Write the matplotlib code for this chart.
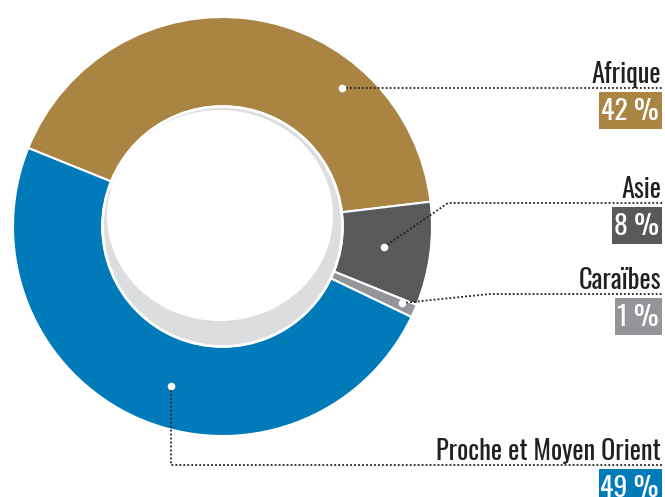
import matplotlib.pyplot as plt
from matplotlib.patches import Circle, Ellipse, Rectangle

# data
regions = ['Afrique', 'Asie', 'Caraïbes', 'Proche et Moyen Orient']
shares = [42, 8, 1, 49]
share_labels = ['42 %', '8 %', '1 %', '49 %']
colors = ['#aa8443', '#58595b', '#939598', '#007ab8']

# layout in pixels (y from top of image)
W, H = 665, 497
cx, cy, R, r_hole = 222.5, 226.5, 209.5, 120
dots = [(342, 88), (384, 247), (402, 303), (171, 386)]
bends = [None, (448, 203), (490, 294), (171, 465)]
line_y = [88, 203, 294, 465]
x_right = 662

FONT = ['Oswald', 'DejaVu Sans']

fig = plt.figure(figsize=(W / 100, H / 100), dpi=100)
ax = fig.add_axes([0, 0, 1, 1])


def fy(y):
    return H - y


ax.pie(shares, colors=colors, startangle=158, counterclock=False,
       radius=R, center=(cx, fy(cy)),
       wedgeprops=dict(width=R - r_hole, edgecolor='white', linewidth=1.5))

ax.add_patch(Circle((cx, fy(cy)), r_hole, facecolor='#dcddde',
                    edgecolor='white', linewidth=2, zorder=3))
ax.add_patch(Ellipse((220, fy(215.5)), 226, 211, facecolor='white',
                     edgecolor='none', zorder=4))

ax.set_xlim(0, W)
ax.set_ylim(0, H)
ax.set_aspect('auto')
ax.axis('off')

pct_texts = []
for i in range(len(regions)):
    dx, dy = dots[i]
    xs, ys = [dx], [dy]
    if bends[i] is not None:
        xs.append(bends[i][0])
        ys.append(bends[i][1])
    xs.append(x_right + 1)
    ys.append(line_y[i])
    ax.plot(xs, [fy(v) for v in ys], color='#231f20', lw=1.3,
            linestyle=(0, (1, 1.2)), zorder=5)
    ax.plot(dx, fy(dy), 'o', ms=5.5, mfc='white', mec='none', zorder=6)
    ax.text(x_right - 1, fy(line_y[i] - 5), regions[i], ha='right', va='baseline',
            fontsize=19, color='#231f20', family=FONT, zorder=6)
    t = ax.text(x_right - 3, fy(line_y[i] + 32), share_labels[i], ha='right',
                va='baseline', fontsize=20, color='white', family=FONT, zorder=7)
    pct_texts.append(t)

# coloured boxes behind the percentages, sized from the text
fig.canvas.draw()
inv = ax.transData.inverted()
for i, t in enumerate(pct_texts):
    bb = t.get_window_extent().transformed(inv)
    top = fy(line_y[i] + 4)
    ax.add_patch(Rectangle((bb.x0 - 2, top - 37), bb.x1 - bb.x0 + 5, 37,
                           facecolor=colors[i], edgecolor='none', zorder=6))

fig.savefig('out.png', dpi=100)
